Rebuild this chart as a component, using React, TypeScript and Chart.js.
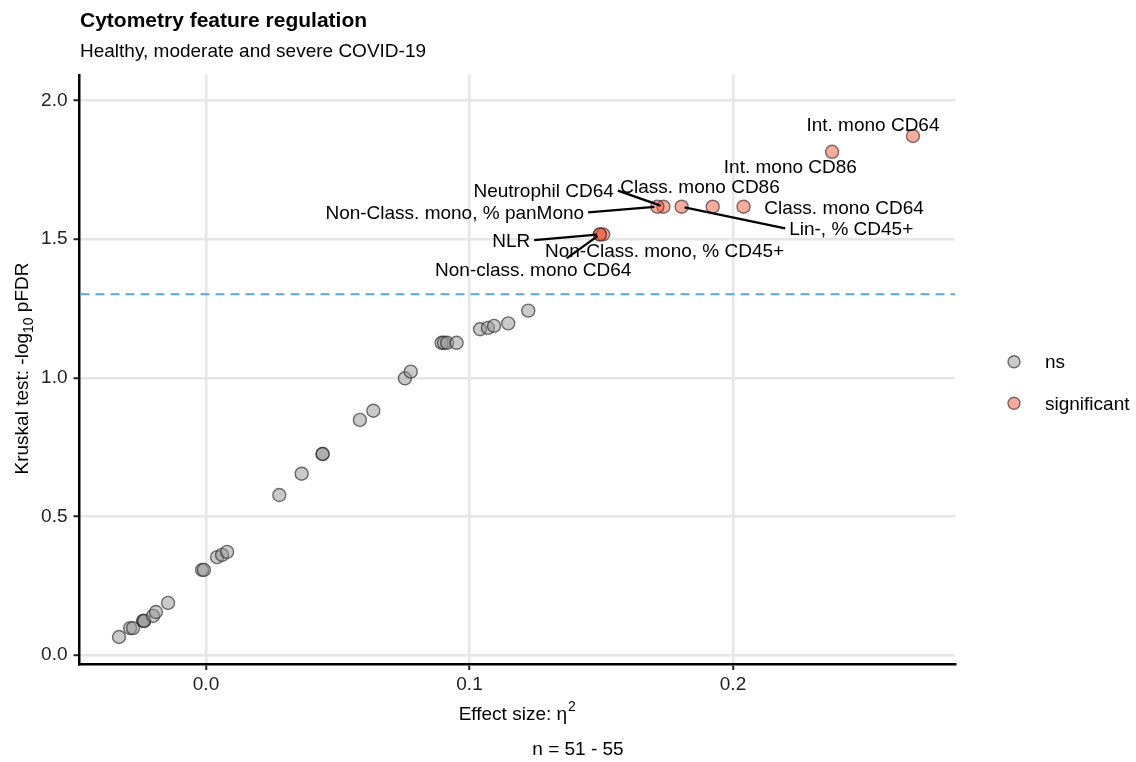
import React, { useEffect, useRef } from "react";
import { Chart, registerables } from "chart.js";

Chart.register(...registerables);

const FONT = '"Liberation Sans", Arial, Helvetica, sans-serif';

// ---------------- data ----------------
const nsEffect = [
  -0.033, -0.0288, -0.0277, -0.0239, -0.0235, -0.0235, -0.0201, -0.019, -0.0144,
  -0.0015, -0.0008, 0.0042, 0.0061, 0.008,
  0.0278, 0.0363, 0.0442, 0.0443, 0.0584, 0.0635, 0.0755, 0.0777,
  0.0894, 0.0903, 0.0915, 0.0951, 0.104, 0.107, 0.1093, 0.1147, 0.1223,
];
const nsLogP = [
  0.065, 0.097, 0.097, 0.123, 0.123, 0.123, 0.141, 0.155, 0.188,
  0.307, 0.307, 0.353, 0.361, 0.372,
  0.577, 0.654, 0.725, 0.725, 0.848, 0.881, 0.998, 1.022,
  1.126, 1.126, 1.126, 1.126, 1.175, 1.18, 1.187, 1.196, 1.242,
];

const sigFeatures = [
  "Int. mono CD64",
  "Int. mono CD86",
  "Neutrophil CD64",
  "Non-Class. mono, % panMono",
  "Class. mono CD86",
  "Class. mono CD64",
  "Lin-, % CD45+",
  "NLR",
  "Non-Class. mono, % CD45+",
  "Non-class. mono CD64",
];
const sigEffect = [0.2683, 0.2376, 0.1736, 0.1713, 0.1923, 0.204, 0.1805, 0.1495, 0.1507, 0.1495];
const sigLogP = [1.872, 1.815, 1.617, 1.617, 1.617, 1.617, 1.617, 1.517, 1.517, 1.517];

const groupNames = ["ns", "significant"];
const xTicks = [0, 0.1, 0.2];
const yTicks = [0, 0.5, 1, 1.5, 2];
const fdrCutoff = 0.05;

// ---------------- layout (label placement, px from point) ----------------
const labelLayout: Record<string, { dx: number; dy: number; segment: boolean }> = {
  "Int. mono CD64": { dx: -40, dy: -11.5, segment: false },
  "Int. mono CD86": { dx: -41.7, dy: 14, segment: false },
  "Neutrophil CD64": { dx: -119.8, dy: -16, segment: true },
  "Non-Class. mono, % panMono": { dx: -202.6, dy: 5.6, segment: true },
  "Class. mono CD86": { dx: -12.7, dy: -20, segment: false },
  "Class. mono CD64": { dx: 100.5, dy: 1, segment: false },
  "Lin-, % CD45+": { dx: 169.6, dy: 21.6, segment: true },
  NLR: { dx: -88.7, dy: 5.7, segment: true },
  "Non-Class. mono, % CD45+": { dx: 61.5, dy: 15.7, segment: false },
  "Non-class. mono CD64": { dx: -66.7, dy: 34.7, segment: true },
};

const NS_FILL = "rgba(150,150,150,0.5)";
const NS_BORDER = "rgba(40,40,40,0.65)";
const SIG_FILL = "rgba(239,92,62,0.5)";
const SIG_BORDER = "rgba(60,40,40,0.65)";
const POINT_R = 6.5;

const overlayPlugin = {
  id: "overlay",
  beforeDatasetsDraw(chart: any) {
    const { ctx, chartArea, scales } = chart;
    const yy = scales.y.getPixelForValue(-Math.log10(fdrCutoff));
    ctx.save();
    ctx.strokeStyle = "#5fa3db";
    ctx.lineWidth = 2;
    ctx.setLineDash([9, 6]);
    ctx.beginPath();
    ctx.moveTo(chartArea.left + 1, yy);
    ctx.lineTo(chartArea.right, yy);
    ctx.stroke();
    ctx.restore();
  },
  afterDatasetsDraw(chart: any) {
    const { ctx, scales } = chart;
    const fs = 19;
    ctx.save();
    ctx.font = `${fs}px ${FONT}`;
    sigFeatures.forEach((name, i) => {
      const lay = labelLayout[name];
      if (!lay) return;
      const px = scales.x.getPixelForValue(sigEffect[i]);
      const py = scales.y.getPixelForValue(sigLogP[i]);
      const cx = px + lay.dx;
      const cy = py + lay.dy;
      const w = ctx.measureText(name).width;
      if (lay.segment) {
        const pad = 4;
        const halfH = fs * 0.358 + 4;
        const left = cx - w / 2 - pad;
        const right = cx + w / 2 + pad;
        const top = cy - halfH;
        const bottom = cy + halfH;
        let sx: number, sy: number;
        if (px < left) {
          sx = left;
          sy = cy;
        } else if (px > right) {
          sx = right;
          sy = cy;
        } else {
          sx = (px + cx) / 2;
          sy = py < top ? top : bottom;
        }
        const ddx = px - sx;
        const ddy = py - sy;
        const d = Math.hypot(ddx, ddy) || 1;
        const ex = px - (ddx / d) * 3;
        const ey = py - (ddy / d) * 3;
        ctx.strokeStyle = "#000";
        ctx.lineWidth = 2.3;
        ctx.beginPath();
        ctx.moveTo(sx, sy);
        ctx.lineTo(ex, ey);
        ctx.stroke();
      }
      ctx.fillStyle = "#000";
      ctx.textAlign = "center";
      ctx.textBaseline = "alphabetic";
      ctx.fillText(name, cx, cy + fs * 0.358);
    });
    ctx.restore();
  },
  afterDraw(chart: any) {
    const { ctx, chartArea } = chart;
    ctx.save();
    ctx.fillStyle = "#000";
    ctx.textBaseline = "alphabetic";
    // title & subtitle
    ctx.textAlign = "left";
    ctx.font = `bold 21px ${FONT}`;
    ctx.fillText("Cytometry feature regulation", 80, 27.3);
    ctx.font = `19px ${FONT}`;
    ctx.fillText("Healthy, moderate and severe COVID-19", 80, 56.7);

    // x axis title with superscript
    const xMid = (chartArea.left + chartArea.right) / 2;
    const xBase = chartArea.bottom + 56;
    const xa = "Effect size: ";
    const xb = "\u03b7";
    const xc = "2";
    ctx.font = `19px ${FONT}`;
    const wa = ctx.measureText(xa).width;
    const wb = ctx.measureText(xb).width;
    ctx.font = `14px ${FONT}`;
    const wc = ctx.measureText(xc).width;
    const x0 = xMid - (wa + wb + wc + 1) / 2;
    ctx.font = `19px ${FONT}`;
    ctx.fillText(xa, x0, xBase);
    ctx.fillText(xb, x0 + wa, xBase);
    ctx.font = `14px ${FONT}`;
    ctx.fillText(xc, x0 + wa + wb + 1, xBase - 9);

    // y axis title with subscript
    const yMid = (chartArea.top + chartArea.bottom) / 2 - 1;
    ctx.save();
    ctx.translate(28, yMid);
    ctx.rotate(-Math.PI / 2);
    const ya = "Kruskal test: -log";
    const yb = "10";
    const yc = " pFDR";
    ctx.font = `19px ${FONT}`;
    const wya = ctx.measureText(ya).width;
    const wyc = ctx.measureText(yc).width;
    ctx.font = `14px ${FONT}`;
    const wyb = ctx.measureText(yb).width;
    const y0 = -(wya + wyb + wyc) / 2;
    ctx.font = `19px ${FONT}`;
    ctx.fillText(ya, y0, 0);
    ctx.fillText(yc, y0 + wya + wyb, 0);
    ctx.font = `14px ${FONT}`;
    ctx.fillText(yb, y0 + wya, 5);
    ctx.restore();

    // caption
    ctx.font = `19px ${FONT}`;
    ctx.textAlign = "center";
    ctx.fillText("n = 51 - 55", 578, 755);

    // legend
    const legendY = [361.7, 403.3];
    const fills = [NS_FILL, SIG_FILL];
    const borders = [NS_BORDER, SIG_BORDER];
    groupNames.forEach((g, i) => {
      ctx.beginPath();
      ctx.arc(1014, legendY[i], 6, 0, Math.PI * 2);
      ctx.fillStyle = fills[i];
      ctx.fill();
      ctx.strokeStyle = borders[i];
      ctx.lineWidth = 1.4;
      ctx.stroke();
      ctx.fillStyle = "#000";
      ctx.textAlign = "left";
      ctx.font = `19px ${FONT}`;
      ctx.fillText(g, 1045, legendY[i] + 6.5);
    });
    ctx.restore();
  },
};

export default function App() {
  const canvasRef = useRef<HTMLCanvasElement | null>(null);

  useEffect(() => {
    const canvas = canvasRef.current;
    if (!canvas) return;
    const nsData = nsEffect.map((x, i) => ({ x, y: nsLogP[i] }));
    const sigData = sigEffect.map((x, i) => ({ x, y: sigLogP[i] }));

    const chart = new Chart(canvas, {
      type: "scatter",
      data: {
        datasets: [
          {
            label: groupNames[1],
            data: sigData,
            backgroundColor: SIG_FILL,
            borderColor: SIG_BORDER,
            borderWidth: 1.4,
            pointRadius: POINT_R,
          },
          {
            label: groupNames[0],
            data: nsData,
            backgroundColor: NS_FILL,
            borderColor: NS_BORDER,
            borderWidth: 1.4,
            pointRadius: POINT_R,
          },
        ],
      },
      options: {
        responsive: false,
        animation: false,
        events: [],
        layout: { padding: { left: 0, top: 75, right: 1136 - 955, bottom: 0 } },
        plugins: {
          legend: { display: false },
          tooltip: { enabled: false },
          title: { display: false },
        },
        scales: {
          x: {
            type: "linear",
            min: -0.04801,
            max: 0.28425,
            afterBuildTicks: (scale: any) => {
              scale.ticks = xTicks.map((v) => ({ value: v }));
            },
            afterFit: (scale: any) => {
              scale.height = 98;
            },
            ticks: {
              font: { family: FONT, size: 19 },
              color: "#222",
              padding: 3,
              maxRotation: 0,
              callback: (v: any) => Number(v).toFixed(1),
            },
            grid: {
              color: "#e6e6e6",
              lineWidth: 2.5,
              tickColor: "#222",
              tickLength: 6,
              tickWidth: 2,
            },
            border: { display: true, color: "#000", width: 2.5 },
          },
          y: {
            type: "linear",
            min: -0.03246,
            max: 2.092,
            afterBuildTicks: (scale: any) => {
              scale.ticks = yTicks.map((v) => ({ value: v }));
            },
            afterFit: (scale: any) => {
              scale.width = 79.5;
            },
            ticks: {
              font: { family: FONT, size: 19 },
              color: "#222",
              padding: 6,
              callback: (v: any) => Number(v).toFixed(1),
            },
            grid: {
              color: "#e6e6e6",
              lineWidth: 2.5,
              tickColor: "#222",
              tickLength: 6,
              tickWidth: 2,
            },
            border: { display: true, color: "#000", width: 2.5 },
          },
        },
      },
      plugins: [overlayPlugin],
    } as any);

    return () => {
      chart.destroy();
    };
  }, []);

  return (
    <div style={{ position: "fixed", left: 0, top: 0, width: 1136, height: 762, background: "#fff" }}>
      <canvas ref={canvasRef} width={1136} height={762} style={{ display: "block", width: 1136, height: 762 }} />
    </div>
  );
}
